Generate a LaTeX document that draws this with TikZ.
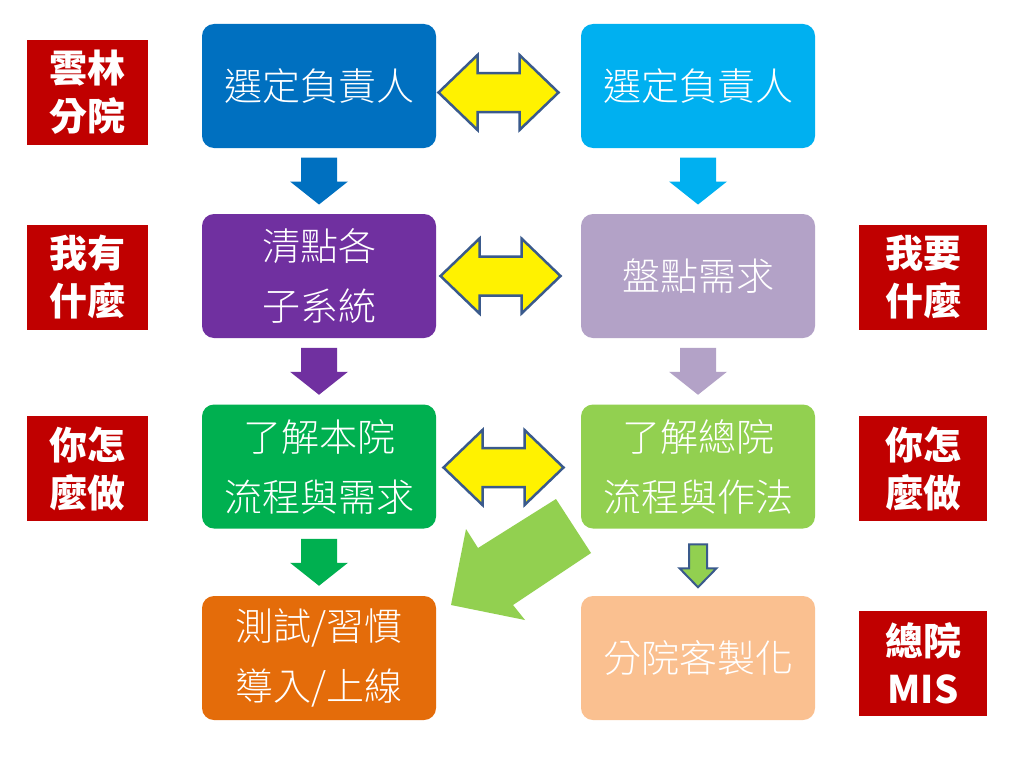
\documentclass[tikz,border=0pt]{standalone}
\usepackage{fontspec}
\setmainfont{Noto Sans CJK TC}
\newfontfamily\lightcjk{Noto Sans CJK TC Light}
\usetikzlibrary{calc}
\definecolor{cA}{HTML}{0070C0}
\definecolor{cB}{HTML}{00B0F0}
\definecolor{cC}{HTML}{7030A0}
\definecolor{cD}{HTML}{B3A2C7}
\definecolor{cE}{HTML}{00B050}
\definecolor{cF}{HTML}{92D050}
\definecolor{cG}{HTML}{E46C0A}
\definecolor{cH}{HTML}{FAC090}
\definecolor{tagred}{HTML}{C00000}
\definecolor{arrline}{HTML}{3A5A8C}
\begin{document}
\begin{tikzpicture}[x=1pt,y=-1pt,
  box/.style={rounded corners=12pt, minimum width=234pt, minimum height=124pt, text=white,
    font=\lightcjk\fontsize{38}{60}\selectfont, align=center, inner sep=0pt},
  tag/.style={fill=tagred, minimum width=121pt, minimum height=105pt, text=white,
    font=\bfseries\fontsize{38}{48}\selectfont, align=center, inner sep=0pt},
  rtag/.style={tag, minimum width=128pt},
  downarr/.pic={\fill[pic actions] (-18,-23.5) -- (18,-23.5) -- (18,0.5) -- (29,0.5) -- (0,23.5) -- (-29,0.5) -- (-18,0.5) -- cycle;},
  smallarr/.pic={\filldraw[pic actions] (-9,-18) -- (9,-18) -- (9,6) -- (18.5,6) -- (0,25) -- (-18.5,6) -- (-9,6) -- cycle;},
  dblarr/.pic={\filldraw[pic actions] (-60,0) -- (-21,-37.5) -- (-21,-19.5) -- (21,-19.5) -- (21,-37.5) -- (60,0) -- (21,37.5) -- (21,19.5) -- (-21,19.5) -- (-21,37.5) -- cycle;},
  dbl/.style={fill=yellow, draw=arrline, line width=2.5pt, line join=miter}
]
\useasboundingbox[fill=white] (0,0) rectangle (1024,768);

% main boxes
\node[box,fill=cA] (L1) at (319,86) {選定負責人};
\node[box,fill=cB] (R1) at (698,86) {選定負責人};
\node[box,fill=cC] (L2) at (319,276) {清點各\\子系統};
\node[box,fill=cD] (R2) at (698,276) {盤點需求};
\node[box,fill=cE] (L3) at (319,466.5) {了解本院\\流程與需求};
\node[box,fill=cF] (R3) at (698,466.5) {了解總院\\流程與作法};
\node[box,fill=cG] (L4) at (319,658) {測試/習慣\\導入/上線};
\node[box,fill=cH] (R4) at (698,658) {分院客製化};

% tags
\node[tag] (T1) at (87.5,92.5) {雲林\\分院};
\node[tag] (T2) at (87.5,277.5) {我有\\什麼};
\node[tag] (T3) at (87.5,468.5) {你怎\\麼做};
\node[rtag] (T4) at (923,277.5) {我要\\什麼};
\node[rtag] (T5) at (923,468.5) {你怎\\麼做};
\node[rtag] (T6) at (923,663.5) {總院\\MIS};

% down arrows
\pic[fill=cA] at ($(L1.south)!0.5!(L2.north)$) {downarr};
\pic[fill=cB] at ($(R1.south)!0.5!(R2.north)$) {downarr};
\pic[fill=cC] at ($(L2.south)!0.5!(L3.north)$) {downarr};
\pic[fill=cD] at ($(R2.south)!0.5!(R3.north)$) {downarr};
\pic[fill=cE] at ($(L3.south)!0.5!(L4.north)$) {downarr};
\pic[fill=cF,draw=arrline,line width=2pt] at ($(R3.south)!0.5!(R4.north)$) {smallarr};

% double arrows
\pic[dbl] at ($(L1.east)!0.5!(R1.west)+(-10,6.5)$) {dblarr};
\pic[dbl] at ($(L2.east)!0.5!(R2.west)+(-8,0)$) {dblarr};
\pic[dbl] at ($(L3.east)!0.5!(R3.west)+(-5,1)$) {dblarr};

% big green arrow
\fill[cF] (451,605) -- (466,529) -- (478,548) -- (556,499) -- (591,553) -- (513,605) -- (525,620) -- cycle;
\end{tikzpicture}
\end{document}
